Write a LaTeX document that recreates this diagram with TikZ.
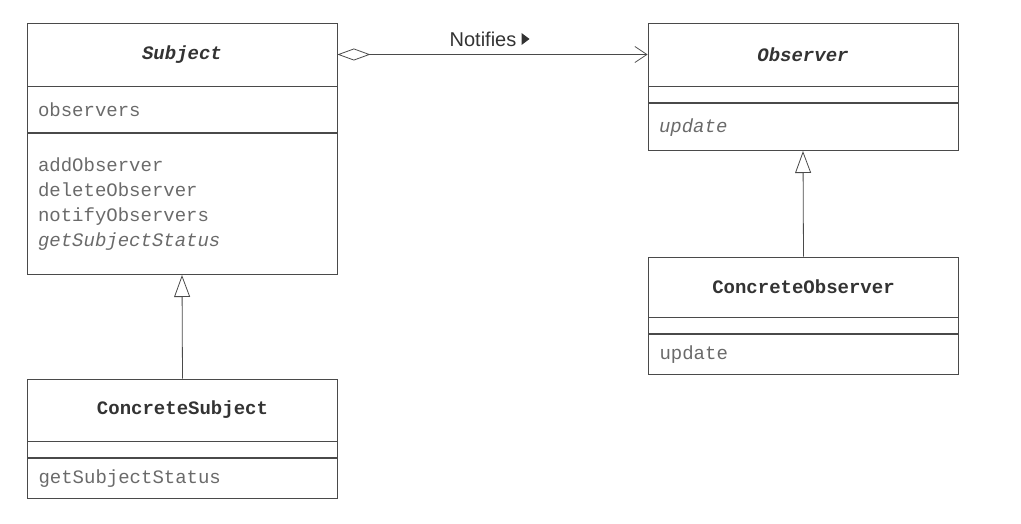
\documentclass[tikz,border=0pt]{standalone}
\usepackage{fontspec}
\setmainfont{Liberation Sans}
\setmonofont{Liberation Mono}
\usepackage{xcolor}
\usetikzlibrary{positioning}
\usetikzlibrary{arrows.meta}
\usetikzlibrary{calc}

\definecolor{umlline}{HTML}{4A4A4A}
\definecolor{umltext}{HTML}{6A6A6A}
\definecolor{umlname}{HTML}{333333}

\begin{document}
\begin{tikzpicture}[x=1pt, y=-1pt,
	cpart/.style={draw=umlline, line width=0.8pt, rectangle, inner xsep=11pt, inner ysep=0pt,
		text width=288pt, align=left, text=umltext, font=\ttfamily\fontsize{19}{25.2}\selectfont},
	cname/.style={cpart, align=center, text=umlname, minimum height=63pt},
	inherit/.style={draw=umlline, line width=0.8pt, -{Triangle[open, length=22pt, width=16pt]}},
	notify/.style={draw=umlline, line width=0.8pt, {Diamond[open, length=33pt, width=12pt]}-{Straight Barb[length=12pt, width=16pt]}}]
	\useasboundingbox (0,0) rectangle (1021,524);
	    % Subject
		\node[cname] (subj) at (182,54.5) {\textbf{\textit{Subject}}};
		\node[cpart, minimum height=46pt, below=0pt of subj] (subjattr) {observers};
		\node[cpart, minimum height=141pt, below=0pt of subjattr] (subjops)
		{addObserver\\deleteObserver\\notifyObservers\\\textit{getSubjectStatus}};
	    % ConcreteSubject
		\node[cname, minimum height=62pt] (csubj) at (182.5,410) {\textbf{ConcreteSubject}};
		\node[cpart, minimum height=16pt, below=0pt of csubj] (csubjattr) {};
		\node[cpart, minimum height=40pt, below=0pt of csubjattr] (csubjops) {getSubjectStatus};
	    % Observer
		\node[cname] (obs) at (803,54.5) {\textbf{\textit{Observer}}};
		\node[cpart, minimum height=16pt, below=0pt of obs] (obsattr) {};
		\node[cpart, minimum height=47pt, below=0pt of obsattr] (obsops) {\textit{update}};
	    % ConcreteObserver
		\node[cname, minimum height=60pt] (cobs) at (803.5,287) {\textbf{ConcreteObserver}};
		\node[cpart, minimum height=16pt, below=0pt of cobs] (cobsattr) {};
		\node[cpart, minimum height=40pt, below=0pt of cobsattr] (cobsops) {update};
	    % Relations
		\draw[notify] (subj.east) -- (obs.west);
		\node[inner sep=0pt, text=umlname, font=\fontsize{20}{24}\selectfont] (notif) at (483,39) {Notifies};
		\fill[umlname] ($(notif.east)+(5,-6)$) -- ++(0,12) -- ++(8,-6) -- cycle;
		\draw[inherit] (csubj.north) -- (subjops.south);
		\draw[inherit] (cobs.north) -- (obsops.south);
	\end{tikzpicture}
\end{document}
